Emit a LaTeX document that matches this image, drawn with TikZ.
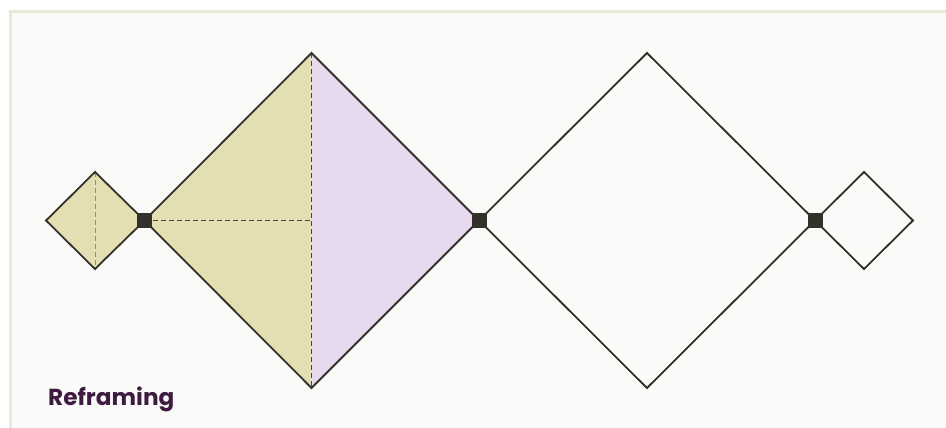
\documentclass[tikz,border=0pt]{standalone}
\usepackage{fontspec}
\setmainfont{Poppins}[UprightFont=* Bold]
\definecolor{olive}{HTML}{E4DFB2}
\definecolor{lav}{HTML}{E8DAEE}
\definecolor{ink}{HTML}{34312A}
\definecolor{frame}{HTML}{E9E9DA}
\definecolor{paper}{HTML}{FAFAF8}
\definecolor{title}{HTML}{3F1B42}
\definecolor{dashgray}{HTML}{958A8A}
\definecolor{dashdark}{HTML}{4E4448}
\tikzset{
  edge/.style={draw=ink, line width=1.8pt, line join=miter},
  hub/.style={rectangle, fill=ink, minimum size=15pt, inner sep=0pt},
  guide/.style={dashed, dash pattern=on 5pt off 3pt, line width=0.9pt},
}
\begin{document}
\begin{tikzpicture}[x=1pt,y=-1pt]
\useasboundingbox (0,0) rectangle (946,428);
\fill[white] (0,0) rectangle (946,428);
\begin{scope}
\clip (0,0) rectangle (946,428);
\fill[paper, draw=frame, line width=3pt] (10.5,11.5) rectangle (960,440);
\end{scope}
% coordinates
\coordinate (aL) at (46,220.5);  \coordinate (aT) at (95,172); \coordinate (aB) at (95,269);
\coordinate (n1) at (144.5,220.5);
\coordinate (bT) at (311.5,53); \coordinate (bB) at (311.5,388);
\coordinate (n2) at (479,220.5);
\coordinate (cT) at (647,53); \coordinate (cB) at (647,388);
\coordinate (n3) at (815,220.5);
\coordinate (dT) at (864,172); \coordinate (dR) at (913,220.5); \coordinate (dB) at (864,269);
\coordinate (bC) at (311.5,220.5);
% fills
\fill[olive] (aL) -- (aT) -- (n1) -- (aB) -- cycle;
\fill[olive] (n1) -- (bT) -- (bB) -- cycle;
\fill[lav] (bT) -- (n2) -- (bB) -- cycle;
% guides
\draw[guide, dashgray] (aT) -- (aB);
\draw[guide, dashdark] (bT) -- (bB);
\draw[guide, dashdark] (n1) -- (bC);
% outlines
\draw[edge] (aL) -- (aT) -- (n1) -- (aB) -- cycle;
\draw[edge] (n1) -- (bT) -- (n2) -- (bB) -- cycle;
\draw[edge] (n2) -- (cT) -- (n3) -- (cB) -- cycle;
\draw[edge] (n3) -- (dT) -- (dR) -- (dB) -- cycle;
% hubs
\node[hub] (h1) at (n1) {};
\node[hub] (h2) at (n2) {};
\node[hub] (h3) at (n3) {};
% title
\node[anchor=base west, inner sep=0pt, text=title, font=\fontsize{23.2}{27}\selectfont] (lbl) at (48,405.5) {Reframing};
\end{tikzpicture}
\end{document}
